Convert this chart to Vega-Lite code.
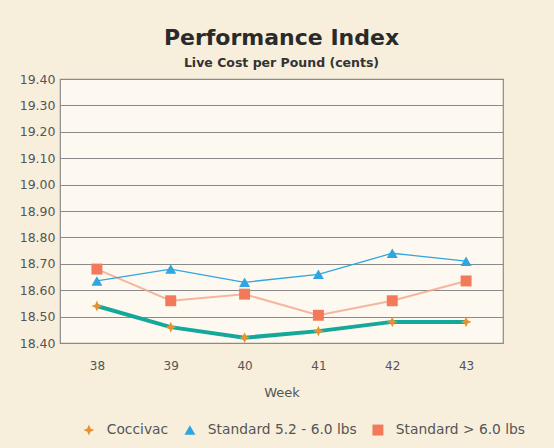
{
  "$schema": "https://vega.github.io/schema/vega-lite/v6.json",
  "width": 443,
  "height": 264,
  "autosize": "none",
  "padding": {"left": 60, "top": 79, "right": 51, "bottom": 105},
  "background": "#f7efdc",
  "title": {
    "text": "Performance Index",
    "subtitle": "Live Cost per Pound (cents)",
    "font": "DejaVu Sans",
    "fontSize": 22,
    "fontWeight": "bold",
    "color": "#2a2a2a",
    "subtitleFont": "DejaVu Sans",
    "subtitleFontSize": 12.5,
    "subtitleFontWeight": "bold",
    "subtitleColor": "#333",
    "subtitlePadding": 7,
    "anchor": "middle",
    "offset": 3
  },
  "data": {
    "values": [
      {"week": "38", "series": "Coccivac", "value": 18.54},
      {"week": "39", "series": "Coccivac", "value": 18.46},
      {"week": "40", "series": "Coccivac", "value": 18.42},
      {"week": "41", "series": "Coccivac", "value": 18.445},
      {"week": "42", "series": "Coccivac", "value": 18.48},
      {"week": "43", "series": "Coccivac", "value": 18.48},
      {"week": "38", "series": "Standard 5.2 - 6.0 lbs", "value": 18.635},
      {"week": "39", "series": "Standard 5.2 - 6.0 lbs", "value": 18.68},
      {"week": "40", "series": "Standard 5.2 - 6.0 lbs", "value": 18.63},
      {"week": "41", "series": "Standard 5.2 - 6.0 lbs", "value": 18.66},
      {"week": "42", "series": "Standard 5.2 - 6.0 lbs", "value": 18.74},
      {"week": "43", "series": "Standard 5.2 - 6.0 lbs", "value": 18.71},
      {"week": "38", "series": "Standard > 6.0 lbs", "value": 18.68},
      {"week": "39", "series": "Standard > 6.0 lbs", "value": 18.56},
      {"week": "40", "series": "Standard > 6.0 lbs", "value": 18.585},
      {"week": "41", "series": "Standard > 6.0 lbs", "value": 18.505},
      {"week": "42", "series": "Standard > 6.0 lbs", "value": 18.56},
      {"week": "43", "series": "Standard > 6.0 lbs", "value": 18.635}
    ]
  },
  "encoding": {
    "x": {
      "field": "week",
      "type": "ordinal",
      "scale": {"type": "point", "padding": 0.5},
      "axis": {
        "title": "Week",
        "labelAngle": 0,
        "ticks": false,
        "domain": false,
        "labelPadding": 17,
        "titlePadding": 15,
        "labelFont": "DejaVu Sans",
        "labelFontSize": 12,
        "labelColor": "#555",
        "titleFont": "DejaVu Sans",
        "titleFontSize": 13,
        "titleFontWeight": "normal",
        "titleColor": "#555"
      }
    },
    "y": {
      "field": "value",
      "type": "quantitative",
      "scale": {"domain": [18.4, 19.4], "zero": false, "nice": false},
      "axis": {
        "title": null,
        "values": [18.4, 18.5, 18.6, 18.7, 18.8, 18.9, 19.0, 19.1, 19.2, 19.3, 19.4],
        "format": ".2f",
        "ticks": false,
        "domain": false,
        "labelPadding": 5,
        "labelFont": "DejaVu Sans",
        "labelFontSize": 12.5,
        "labelColor": "#555",
        "grid": true,
        "gridColor": "#8a8a8a",
        "gridWidth": 1.2,
        "gridOpacity": 1
      }
    }
  },
  "layer": [
    {
      "transform": [{"filter": "datum.series === 'Standard > 6.0 lbs'"}],
      "mark": {"type": "line", "color": "#f3a58c", "strokeWidth": 2, "opacity": 0.8},
      "encoding": {}
    },
    {
      "transform": [{"filter": "datum.series === 'Standard 5.2 - 6.0 lbs'"}],
      "mark": {"type": "line", "color": "#2fa6df", "strokeWidth": 1.3},
      "encoding": {}
    },
    {
      "transform": [{"filter": "datum.series === 'Coccivac'"}],
      "mark": {"type": "line", "color": "#14a89a", "strokeWidth": 4},
      "encoding": {}
    },
    {
      "mark": {"type": "point", "filled": true, "opacity": 1},
      "encoding": {
        "color": {
          "field": "series",
          "type": "nominal",
          "scale": {
            "domain": ["Coccivac", "Standard 5.2 - 6.0 lbs", "Standard > 6.0 lbs"],
            "range": ["#e8922e", "#2fa6df", "#f27a5a"]
          },
          "legend": {"title": null, "orient": "none", "direction": "horizontal", "legendX": 22, "legendY": 344}
        },
        "shape": {
          "field": "series",
          "type": "nominal",
          "scale": {
            "domain": ["Coccivac", "Standard 5.2 - 6.0 lbs", "Standard > 6.0 lbs"],
            "range": ["M0,-1L0.3,-0.3L1,0L0.3,0.3L0,1L-0.3,0.3L-1,0L-0.3,-0.3Z", "triangle-up", "square"]
          },
          "legend": {"title": null, "orient": "none", "direction": "horizontal", "legendX": 22, "legendY": 344}
        },
        "size": {"value": 120}
      }
    }
  ],
  "config": {
    "view": {"stroke": "#8a8a8a", "strokeWidth": 1.2, "fill": "#fdf9f0"},
    "legend": {
      "labelFont": "DejaVu Sans",
      "labelFontSize": 13.8,
      "labelColor": "#555",
      "symbolSize": 120,
      "columnPadding": 14,
      "labelOffset": 11
    }
  }
}
